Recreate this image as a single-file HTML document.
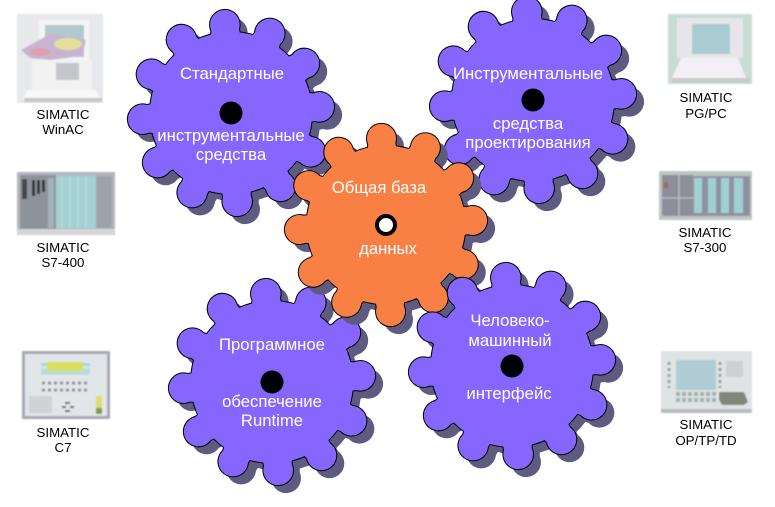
<!DOCTYPE html>
<html><head><meta charset="utf-8"><style>
html,body{margin:0;padding:0;background:#fff;overflow:hidden}
svg{display:block}
text{font-family:"Liberation Sans",Arial,sans-serif}
.w{fill:#fff;font-size:16.7px;text-anchor:middle}
.k{fill:#000;font-size:13.3px;text-anchor:middle}
</style></head><body>
<svg width="775" height="507" viewBox="0 0 775 507" xmlns="http://www.w3.org/2000/svg">
<defs>
<filter id="b" x="-5%" y="-5%" width="110%" height="110%"><feGaussianBlur stdDeviation="0.9"/></filter>
<g id="t"><path d="M-15,-74L-13.5,-86L13.5,-86L15,-74Z"/><circle cx="0" cy="-88.5" r="14.8"/></g>
<g id="g">
<circle r="81"/>
<use href="#t"/><use href="#t" transform="rotate(30)"/><use href="#t" transform="rotate(60)"/><use href="#t" transform="rotate(90)"/>
<use href="#t" transform="rotate(120)"/><use href="#t" transform="rotate(150)"/><use href="#t" transform="rotate(180)"/><use href="#t" transform="rotate(210)"/>
<use href="#t" transform="rotate(240)"/><use href="#t" transform="rotate(270)"/><use href="#t" transform="rotate(300)"/><use href="#t" transform="rotate(330)"/>
</g>
</defs>

<!-- gear 1 -->
<use href="#g" transform="translate(239,121) rotate(-4)" fill="#5f5a80"/>
<use href="#g" transform="translate(231,113) rotate(-4)" fill="#000" stroke="#000" stroke-width="2"/>
<use href="#g" transform="translate(231,113) rotate(-4)" fill="#8566ff"/>
<circle cx="231" cy="113" r="11.5" fill="#000"/>
<text class="w" x="232" y="79">Стандартные</text>
<text class="w" x="231" y="141">инструментальные</text>
<text class="w" x="231" y="160">средства</text>

<!-- gear 3 -->
<use href="#g" transform="translate(541,108) rotate(-4)" fill="#5f5a80"/>
<use href="#g" transform="translate(533,100) rotate(-4)" fill="#000" stroke="#000" stroke-width="2"/>
<use href="#g" transform="translate(533,100) rotate(-4)" fill="#8566ff"/>
<circle cx="533" cy="100" r="11.5" fill="#000"/>
<text class="w" x="528" y="79">Инструментальные</text>
<text class="w" x="528" y="129">средства</text>
<text class="w" x="528" y="148">проектирования</text>

<!-- gear 4 -->
<use href="#g" transform="translate(280,390) rotate(-4)" fill="#5f5a80"/>
<use href="#g" transform="translate(272,382) rotate(-4)" fill="#000" stroke="#000" stroke-width="2"/>
<use href="#g" transform="translate(272,382) rotate(-4)" fill="#8566ff"/>
<circle cx="272" cy="382" r="11.5" fill="#000"/>
<text class="w" x="272" y="350">Программное</text>
<text class="w" x="272" y="407">обеспечение</text>
<text class="w" x="272" y="426">Runtime</text>

<!-- orange gear -->
<use href="#g" transform="translate(394,233) rotate(-3) scale(.98)" fill="#5f5a80"/>
<use href="#g" transform="translate(386,225) rotate(-3) scale(.98)" fill="#000" stroke="#000" stroke-width="2"/>
<use href="#g" transform="translate(386,225) rotate(-3) scale(.98)" fill="#f98045"/>
<circle cx="386" cy="225" r="9" fill="#fff" stroke="#000" stroke-width="4"/>
<text class="w" x="379" y="193">Общая база</text>
<text class="w" x="388" y="254">данных</text>

<!-- gear 5 -->
<use href="#g" transform="translate(520,374) rotate(-4)" fill="#5f5a80"/>
<use href="#g" transform="translate(512,366) rotate(-4)" fill="#000" stroke="#000" stroke-width="2"/>
<use href="#g" transform="translate(512,366) rotate(-4)" fill="#8566ff"/>
<circle cx="512" cy="366" r="11.5" fill="#000"/>
<text class="w" x="510" y="326">Человеко-</text>
<text class="w" x="510" y="346">машинный</text>
<text class="w" x="509" y="399">интерфейс</text>

<!-- WinAC -->
<g filter="url(#b)">
<rect x="17" y="14" width="86" height="89" fill="#e6e8ec"/>
<rect x="39" y="20" width="50" height="42" fill="#f4f4f4"/>
<rect x="45" y="25" width="39" height="32" fill="#b4c8cc"/>
<path d="M21,50L50,34L86,40L82,56L50,60L30,58Z" fill="#c8b4d0"/>
<ellipse cx="68" cy="44" rx="14" ry="6" fill="#e4e09c"/>
<ellipse cx="40" cy="52" rx="10" ry="4" fill="#e0a0b0"/>
<rect x="32" y="60" width="60" height="30" fill="#f2f2f2"/>
<rect x="56" y="63" width="23" height="17" fill="#c4c6ca"/>
<path d="M28,90H96L101,100H22Z" fill="#f8f8f8"/>
<rect x="24" y="98" width="78" height="4" fill="#c4c6c8"/>
</g>
<text class="k" x="63" y="119">SIMATIC</text><text class="k" x="63" y="134">WinAC</text>

<!-- S7-400 -->
<g filter="url(#b)">
<rect x="17" y="172" width="98" height="63" fill="#b4b6bc"/>
<rect x="20" y="175" width="36" height="54" fill="#8e929a"/>
<rect x="22" y="179" width="5" height="20" fill="#444a50"/>
<rect x="32" y="180" width="3" height="16" fill="#30343a"/>
<rect x="37" y="180" width="3" height="14" fill="#30343a"/>
<rect x="42" y="180" width="3" height="12" fill="#30343a"/>
<rect x="48" y="178" width="6" height="50" fill="#a0b4bc"/>
<rect x="56" y="176" width="40" height="52" fill="#a4d2d4"/>
<path d="M62,176V228M70,176V228M78,176V228M86,176V228" stroke="#c0dcdc" stroke-width="1"/>
<rect x="96" y="176" width="16" height="52" fill="#9ea2aa"/>
<rect x="17" y="229" width="98" height="6" fill="#d4d6d8"/>
</g>
<text class="k" x="63" y="252">SIMATIC</text><text class="k" x="63" y="267">S7-400</text>

<!-- PG/PC -->
<g filter="url(#b)">
<rect x="668" y="14" width="84" height="70" fill="#c8dcd4"/>
<rect x="677" y="18" width="66" height="40" fill="#e6e6ea"/>
<rect x="692" y="24" width="38" height="30" fill="#a8ccd0"/>
<path d="M681,58H738L746,78H672Z" fill="#f2f0f6"/>
<rect x="672" y="78" width="78" height="5" fill="#c8ccc8"/>
</g>
<text class="k" x="706" y="102">SIMATIC</text><text class="k" x="706" y="118">PG/PC</text>

<!-- S7-300 -->
<g filter="url(#b)">
<rect x="659" y="171" width="93" height="49" fill="#c0c4c4"/>
<rect x="662" y="175" width="31" height="41" fill="#8e8e9a"/>
<path d="M662,198H693M679,175V216" stroke="#c8c8d0" stroke-width="1"/>
<rect x="664" y="182" width="4" height="6" fill="#a06a50"/>
<rect x="693" y="176" width="57" height="40" fill="#8e92a0"/>
<rect x="694" y="178" width="8" height="35" fill="#a0d0d0"/>
<rect x="708" y="178" width="8" height="35" fill="#a0d0d0"/>
<rect x="721" y="178" width="8" height="35" fill="#a0d0d0"/>
<rect x="734" y="178" width="9" height="35" fill="#a0d0d0"/>
</g>
<text class="k" x="705" y="237">SIMATIC</text><text class="k" x="705" y="252">S7-300</text>

<!-- C7 -->
<g filter="url(#b)">
<rect x="22" y="351" width="88" height="68" fill="#a8a8b4"/>
<rect x="25" y="354" width="82" height="62" fill="#e2e6e8"/>
<rect x="41" y="363" width="49" height="3" fill="#a8d4d8"/>
<rect x="41" y="368" width="49" height="7" fill="#a8d4d8" opacity=".7"/>
<rect x="47" y="362" width="36" height="9" fill="#d8e060"/>
<path d="M42,383H90M42,390H90" stroke="#8a8e94" stroke-width="3" stroke-dasharray="3 3"/>
<rect x="29" y="396" width="23" height="17" fill="#d0d2d6"/>
<path d="M65,403H70M62,407H66M70,407H74M65,411H70" stroke="#60646a" stroke-width="2"/>
<rect x="96" y="396" width="6" height="6" fill="#dde060"/>
<rect x="96" y="402" width="6" height="6" fill="#dcdc70"/>
<rect x="96" y="408" width="6" height="6" fill="#78a040"/>
</g>
<text class="k" x="63" y="437">SIMATIC</text><text class="k" x="63" y="452">C7</text>

<!-- OP -->
<g filter="url(#b)">
<rect x="661" y="351" width="91" height="62" fill="#dfe3e3"/>
<rect x="661" y="409" width="91" height="4" fill="#b8bcbc"/>
<rect x="676" y="360" width="40" height="30" fill="#b0ccd4"/>
<path d="M669,362V388M720,362V388" stroke="#90a0a0" stroke-width="3" stroke-dasharray="3 3"/>
<rect x="726" y="361" width="17" height="16" fill="#ccd0d0"/>
<path d="M676,394H716M676,400H716" stroke="#a0b0b0" stroke-width="4" stroke-dasharray="4 2"/>
<path d="M719,392H744L748,402L744,405H722L719,400Z" fill="#82867c"/>
</g>
<text class="k" x="706" y="429">SIMATIC</text><text class="k" x="706" y="445">OP/TP/TD</text>
</svg>
</body></html>
